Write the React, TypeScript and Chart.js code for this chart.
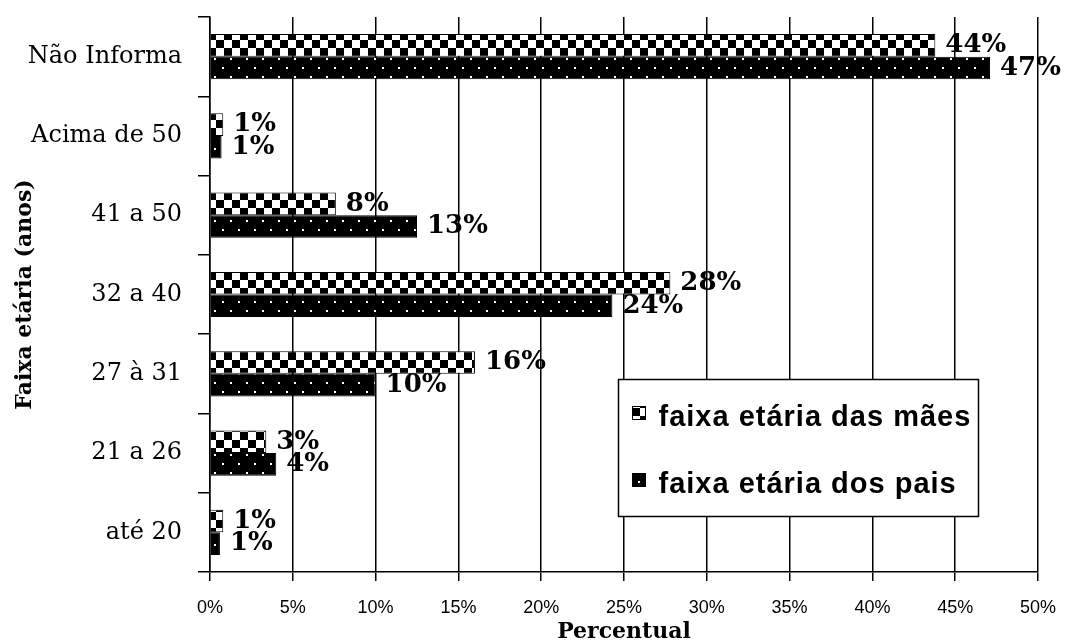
import { useEffect, useRef } from "react";
import { Chart, registerables } from "chart.js";

Chart.register(...registerables);

const categories = ["Não Informa", "Acima de 50", "41 a 50", "32 a 40", "27 à 31", "21 a 26", "até 20"];
const seriesNames = ["faixa etária das mães", "faixa etária dos pais"];
const maesValues = [43.8, 0.8, 7.6, 27.8, 16.0, 3.4, 0.8];
const paisValues = [47.1, 0.7, 12.5, 24.3, 10.0, 4.0, 0.6];
const maesLabels = ["44%", "1%", "8%", "28%", "16%", "3%", "1%"];
const paisLabels = ["47%", "1%", "13%", "24%", "10%", "4%", "1%"];
const xMin = 0;
const xMax = 50;
const xStep = 5;
const xTitle = "Percentual";
const yTitle = "Faixa etária (anos)";

function makeChecker(): CanvasPattern {
  const c = document.createElement("canvas");
  c.width = 16;
  c.height = 16;
  const g = c.getContext("2d")!;
  g.fillStyle = "#fff";
  g.fillRect(0, 0, 16, 16);
  g.fillStyle = "#000";
  g.fillRect(0, 0, 8, 8);
  g.fillRect(8, 8, 8, 8);
  return g.createPattern(c, "repeat")!;
}

function makeDots(): CanvasPattern {
  const c = document.createElement("canvas");
  c.width = 16;
  c.height = 18;
  const g = c.getContext("2d")!;
  g.fillStyle = "#000";
  g.fillRect(0, 0, 16, 18);
  g.fillStyle = "#fff";
  g.fillRect(6, 4, 2, 2);
  g.fillRect(14, 13, 2, 2);
  return g.createPattern(c, "repeat")!;
}

export default function App() {
  const ref = useRef<HTMLCanvasElement | null>(null);

  useEffect(() => {
    const canvas = ref.current;
    if (!canvas) return;
    const checker = makeChecker();
    const dots = makeDots();
    const patterns = [checker, dots];
    const allLabels = [maesLabels, paisLabels];

    const dataLabelPlugin = {
      id: "dataLabels",
      afterDatasetsDraw(chart: any) {
        const ctx = chart.ctx;
        ctx.save();
        ctx.font = 'bold 26px "DejaVu Serif"';
        ctx.fillStyle = "#000";
        ctx.textAlign = "left";
        ctx.textBaseline = "middle";
        chart.data.datasets.forEach((_d: any, i: number) => {
          const meta = chart.getDatasetMeta(i);
          meta.data.forEach((el: any, j: number) => {
            const p = el.getProps(["x", "y"], true);
            ctx.fillText(allLabels[i][j], p.x + 10, p.y);
          });
        });
        ctx.restore();
      },
    };

    const legendPlugin = {
      id: "boxLegend",
      afterDraw(chart: any) {
        const ctx = chart.ctx;
        const ca = chart.chartArea;
        const w = ca.right - ca.left;
        const h = ca.bottom - ca.top;
        const left = Math.round(ca.left + w * 0.493) + 0.5;
        const top = Math.round(ca.top + h * 0.653) + 0.5;
        const bw = 360;
        const bh = 137;
        ctx.save();
        ctx.fillStyle = "#fff";
        ctx.fillRect(left, top, bw, bh);
        ctx.strokeStyle = "#000";
        ctx.lineWidth = 1.5;
        ctx.strokeRect(left, top, bw, bh);
        ctx.font = 'bold 29px "Liberation Sans"';
        (ctx as any).letterSpacing = "1px";
        ctx.textAlign = "left";
        ctx.textBaseline = "alphabetic";
        chart.data.datasets.forEach((d: any, i: number) => {
          const iy = top + 27 + i * 67;
          ctx.fillStyle = patterns[i];
          ctx.fillRect(left + 14, iy, 13, 13);
          ctx.lineWidth = 1;
          ctx.strokeRect(left + 14, iy, 13, 13);
          ctx.fillStyle = "#000";
          ctx.fillText(d.label, left + 40, top + 46 + i * 67);
        });
        ctx.restore();
      },
    };

    const chart = new Chart(canvas, {
      type: "bar",
      data: {
        labels: categories,
        datasets: [
          {
            label: seriesNames[0],
            data: maesValues,
            backgroundColor: checker as any,
            borderColor: "#000",
            borderWidth: 1,
            categoryPercentage: 0.57,
            barPercentage: 1,
          },
          {
            label: seriesNames[1],
            data: paisValues,
            backgroundColor: dots as any,
            borderColor: "#000",
            borderWidth: 1,
            categoryPercentage: 0.57,
            barPercentage: 1,
          },
        ],
      },
      options: {
        indexAxis: "y",
        animation: false,
        responsive: false,
        devicePixelRatio: 1,
        layout: { padding: { top: 17, right: 27, left: 0, bottom: 0 } },
        plugins: {
          legend: { display: false },
          tooltip: { enabled: false },
        },
        scales: {
          x: {
            type: "linear",
            position: "bottom",
            min: xMin,
            max: xMax,
            ticks: {
              stepSize: xStep,
              callback: (v: any) => `${v}%`,
              font: { family: "Liberation Sans", size: 18 },
              color: "#000",
              padding: 16,
              maxRotation: 0,
            },
            grid: { color: "#000", lineWidth: 1.5, tickLength: 9, drawTicks: true },
            border: { color: "#000", width: 1.5 },
            title: {
              display: true,
              text: xTitle,
              color: "#000",
              font: { family: "DejaVu Serif", size: 22, weight: "bold", lineHeight: 1 },
              padding: { top: 0, bottom: 0 },
            },
            afterFit: (s: any) => {
              s.height = 71;
              s.paddingLeft = 0;
              s.paddingRight = 0;
            },
          },
          y: {
            type: "category",
            ticks: {
              font: { family: "DejaVu Serif", size: 24 },
              color: "#000",
              padding: 16,
            },
            grid: {
              color: "#000",
              lineWidth: 1.5,
              tickLength: 12,
              drawOnChartArea: false,
              offset: true,
            },
            border: { color: "#000", width: 1.5 },
            title: {
              display: true,
              text: yTitle,
              color: "#000",
              font: { family: "DejaVu Serif", size: 22, weight: "bold", lineHeight: 1 },
              padding: { top: 14, bottom: 0 },
            },
            afterFit: (s: any) => {
              s.width = 210;
              s.paddingTop = 0;
              s.paddingBottom = 0;
            },
          },
        },
      } as any,
      plugins: [dataLabelPlugin, legendPlugin],
    });

    return () => chart.destroy();
  }, []);

  return (
    <div style={{ position: "absolute", left: 0, top: 0, width: 1065, height: 643, background: "#fff" }}>
      <canvas ref={ref} width={1065} height={643} style={{ width: 1065, height: 643, display: "block" }} />
    </div>
  );
}
